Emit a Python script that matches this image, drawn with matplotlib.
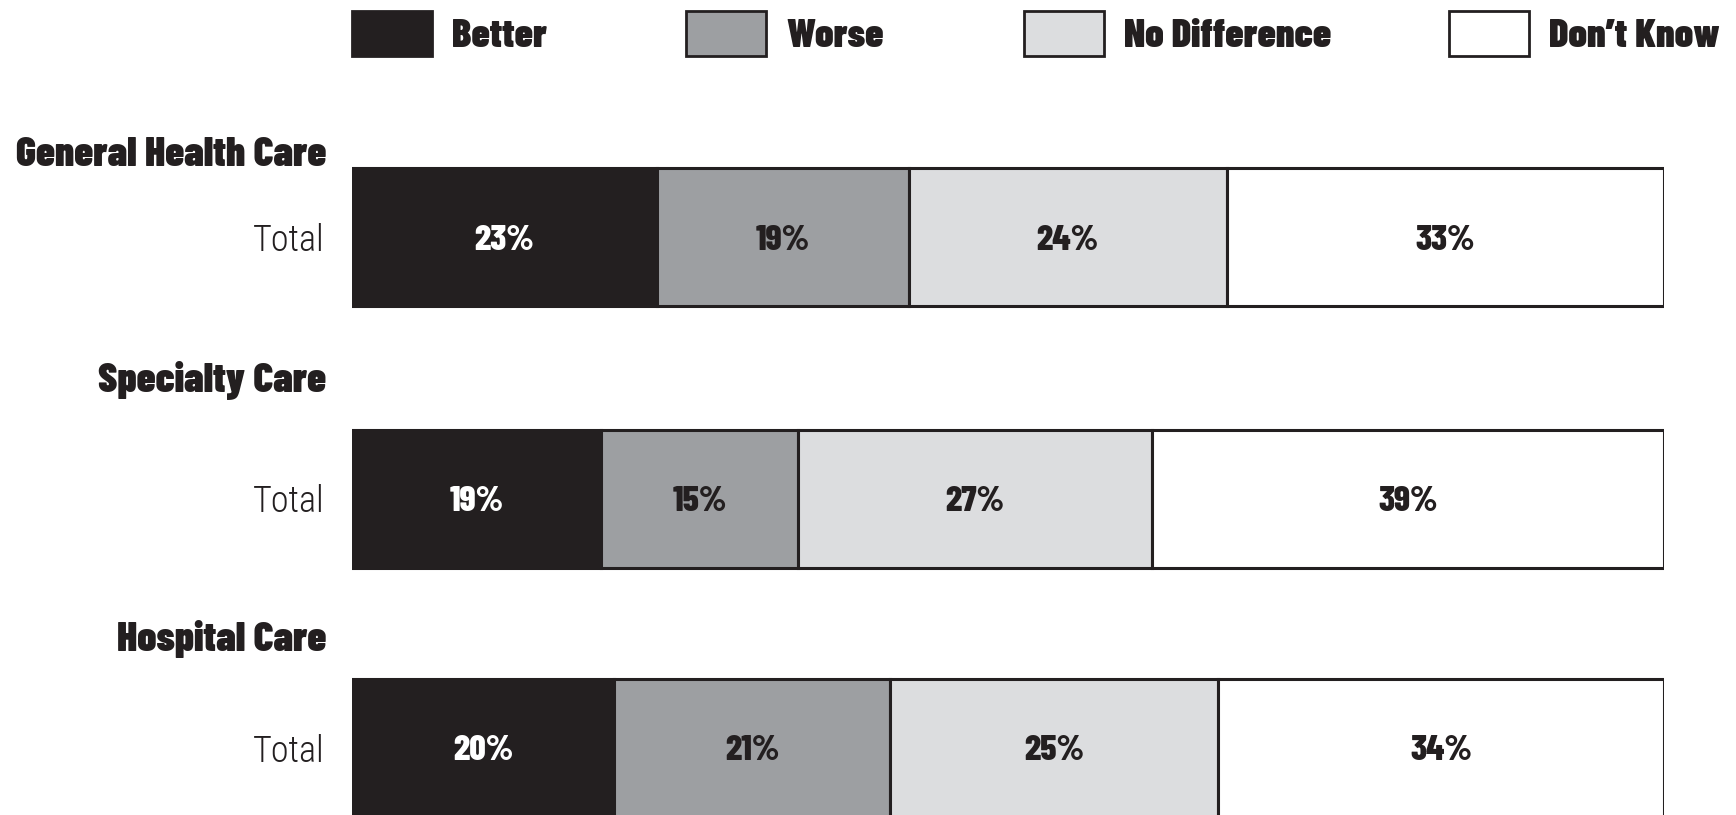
import numpy as np
import matplotlib
matplotlib.use('Agg')
import matplotlib.pyplot as plt
from matplotlib.patches import Patch

# data
groups = ['General Health Care', 'Specialty Care', 'Hospital Care']
row_label = 'Total'
answers = ['Better', 'Worse', 'No Difference', 'Don\u2019t Know']
better = [23, 19, 20]
worse = [19, 15, 21]
no_diff = [24, 27, 25]
dont_know = [33, 39, 34]

colors = ['#231f20', '#9d9fa2', '#dcdddf', '#ffffff']
text_colors = ['white', '#231f20', '#231f20', '#231f20']
edge = '#231f20'

heavy = ['Barlow Condensed', 'DejaVu Sans']
light = ['Roboto Condensed', 'DejaVu Sans']
plt.rcParams['font.family'] = heavy

W, H = 1736, 815
fig = plt.figure(figsize=(W / 100, H / 100), dpi=100)
ax = fig.add_axes([352 / W, 0, (1664 - 352) / W, 1])
ax.set_xlim(0, 100)
ax.set_ylim(H, 0)

# layout, in pixels of the figure
bar_y = [237, 498.5, 747.5]
bar_h = 138
title_base = [166, 392, 651]
legend_x = [352, 686, 1024, 1449]

vals = np.array([better, worse, no_diff, dont_know], dtype=float)
widths = vals / vals.sum(axis=0) * 100  # rounded rows, stretch to full width

left = np.zeros(len(groups))
for i, name in enumerate(answers):
    ax.barh(bar_y, widths[i], left=left, height=bar_h, color=colors[i],
            edgecolor=edge, linewidth=2.2)
    for j in range(len(groups)):
        ax.text(left[j] + widths[i][j] / 2, bar_y[j] + 3, '%d%%' % vals[i][j],
                ha='center', va='center', fontsize=26, fontweight='heavy',
                color=text_colors[i])
    left += widths[i]

ax.set_yticks(bar_y, [row_label] * len(groups))
for t in ax.get_yticklabels():
    t.set_family(light)
    t.set_fontweight('light')
    t.set_fontsize(26)
    t.set_color('#231f20')
ax.tick_params(axis='y', length=0, pad=20)
ax.set_xticks([])
for s in ax.spines.values():
    s.set_visible(False)

for g, yb in zip(groups, title_base):
    fig.text(326 / W, 1 - yb / H, g, ha='right', va='baseline', fontsize=30,
             fontweight='black', color='#231f20')

# one legend per entry so the boxes sit on the same grid as the original
for c, lab, lx in zip(colors, answers, legend_x):
    h = Patch(facecolor=c, edgecolor=edge, linewidth=2)
    leg = fig.legend([h], [lab], loc='upper left',
                     bbox_to_anchor=(lx / W, 1 - 11 / H), frameon=False,
                     fontsize=29, borderpad=0, borderaxespad=0,
                     handlelength=1.99, handleheight=1.35, handletextpad=0.5)
    for t in leg.get_texts():
        t.set_fontweight('black')
        t.set_color('#231f20')

fig.savefig('out.png', dpi=100)
